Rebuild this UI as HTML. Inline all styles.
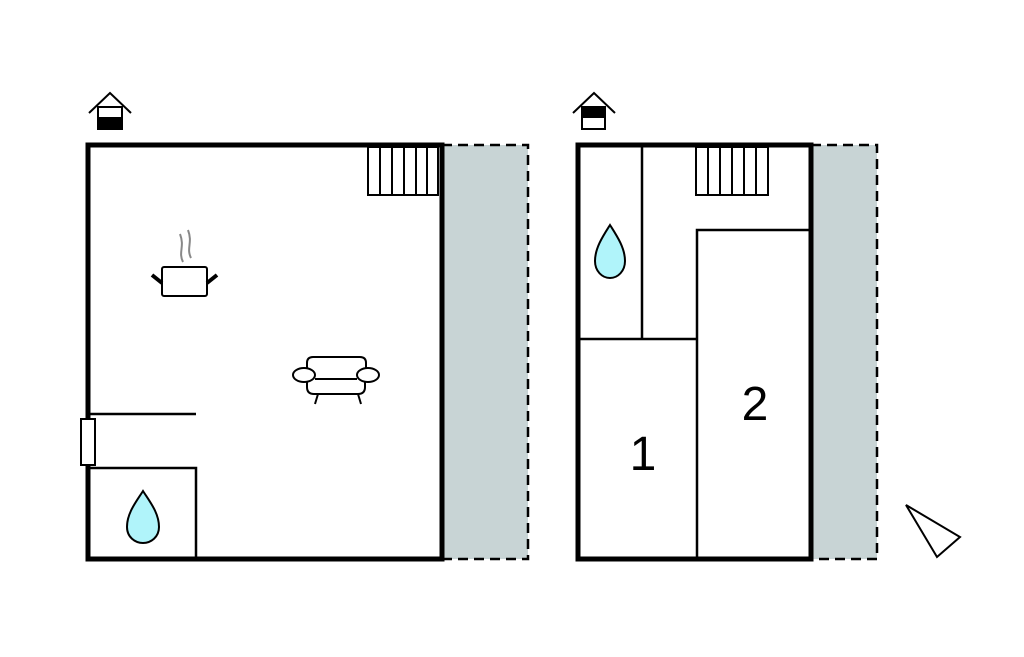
<!DOCTYPE html>
<html><head><style>html,body{margin:0;padding:0;background:#fff}</style></head><body>
<svg width="1024" height="652" viewBox="0 0 1024 652" xmlns="http://www.w3.org/2000/svg">
<rect width="1024" height="652" fill="#fff"/>
<g stroke="#000" stroke-width="2" fill="none">
<polyline points="89,113 110,93 131,113"/>
<rect x="98" y="107" width="24" height="22" fill="#fff"/>
<rect x="98" y="118" width="24" height="11" fill="#000"/>
<polyline points="573,113 594,93 615,113"/>
<rect x="582" y="107" width="23" height="22" fill="#fff"/>
<rect x="582" y="107" width="23" height="10" fill="#000"/>
</g>
<rect x="442" y="145" width="86" height="414" fill="#c8d4d5"/>
<path d="M442,145 H528 V559 H442" fill="none" stroke="#000" stroke-width="2.5" stroke-dasharray="10,6"/>
<rect x="811" y="145" width="66" height="414" fill="#c8d4d5"/>
<path d="M811,145 H877 V559 H811" fill="none" stroke="#000" stroke-width="2.5" stroke-dasharray="10,6"/>
<g stroke="#000" fill="none">
<rect x="88" y="145" width="354" height="414" stroke-width="5" fill="#fff"/>
<rect x="368" y="147" width="70" height="48" stroke-width="2"/>
<path d="M380,147V195M392,147V195M404,147V195M416,147V195M427,147V195" stroke-width="2"/>
<line x1="88" y1="414" x2="196" y2="414" stroke-width="2.5"/>
<polyline points="90,468 196,468 196,557" stroke-width="2.5"/>
<rect x="81" y="419" width="14" height="46" stroke-width="2" fill="#fff"/>
<rect x="162" y="267" width="45" height="29" rx="2" stroke-width="2"/>
<path d="M152,275 L162,283 M217,275 L207,283" stroke-width="4"/>
<path d="M183,262 C178,252 185,247 180,234 M191,258 C186,248 193,243 188,230" stroke="#888" stroke-width="2"/>
<g stroke-width="2">
<path d="M307,375 V363 Q307,357 313,357 H360 Q366,357 366,363 V375"/>
<path d="M307,380 V387 Q307,394 314,394 H358 Q365,394 365,387 V380"/>
<ellipse cx="304" cy="375" rx="11" ry="7" fill="#fff"/>
<ellipse cx="368" cy="375" rx="11" ry="7" fill="#fff"/>
<line x1="315" y1="379" x2="357" y2="379"/>
<path d="M318,394 L315,404 M358,394 L361,404"/>
</g>
</g>
<path d="M143,491 C136,502 127,513 127,527 C127,537 135,543 143,543 C151,543 159,537 159,527 C159,513 150,502 143,491 Z" fill="#b0f4fa" stroke="#000" stroke-width="2"/>
<g stroke="#000" fill="none">
<rect x="578" y="145" width="233" height="414" stroke-width="5" fill="#fff"/>
<rect x="696" y="147" width="72" height="48" stroke-width="2"/>
<path d="M708,147V195M720,147V195M732,147V195M744,147V195M756,147V195" stroke-width="2"/>
<line x1="642" y1="147" x2="642" y2="339" stroke-width="2.5"/>
<line x1="580" y1="339" x2="697" y2="339" stroke-width="2.5"/>
<polyline points="697,557 697,230 809,230" stroke-width="2.5"/>
</g>
<path d="M610,225 C603,236 595,248 595,261 C595,271 602,278 610,278 C618,278 625,271 625,261 C625,248 617,236 610,225 Z" fill="#b0f4fa" stroke="#000" stroke-width="2"/>
<text x="643" y="470" font-family="Liberation Sans, sans-serif" font-size="48" text-anchor="middle">1</text>
<text x="755" y="420" font-family="Liberation Sans, sans-serif" font-size="48" text-anchor="middle">2</text>
<polygon points="906,505 960,537 937,557" fill="#fff" stroke="#000" stroke-width="2"/>
</svg>
</body></html>
